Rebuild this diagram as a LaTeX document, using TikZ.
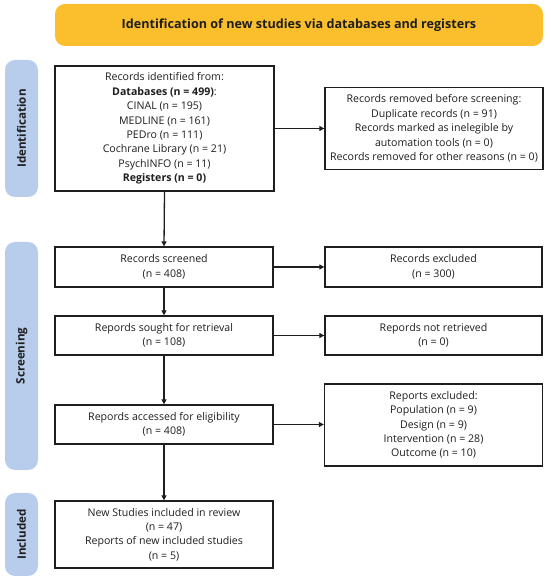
\documentclass[tikz,border=0pt]{standalone}
\usepackage{fontspec}
\setmainfont{Open Sans}
\usetikzlibrary{arrows.meta}
\definecolor{banner}{RGB}{251,190,44}
\definecolor{sidebl}{RGB}{183,205,235}
\definecolor{ink}{RGB}{30,30,30}
\begin{document}
\begin{tikzpicture}[x=1pt,y=1pt,
  box/.style={draw=ink,line width=1.3pt,fill=white,align=center,inner sep=2pt,
    font=\fontsize{10.6}{14.4}\selectfont,text=ink},
  side/.style={fill=sidebl,rounded corners=10pt,minimum width=33pt,inner sep=0pt},
  sidetext/.style={rotate=90,font=\bfseries\fontsize{11.6}{13}\selectfont,text=ink},
  arr/.style={draw=ink,line width=1.3pt,-{Triangle[length=5pt,width=5pt]}}]
\useasboundingbox (0,0) rectangle (550,581);
% banner
\node[fill=banner,rounded corners=10pt,minimum width=488pt,minimum height=42pt,
  font=\bfseries\fontsize{12.6}{14}\selectfont,text=ink,inner sep=0pt] (title) at (299,556) {Identification of new studies via databases and registers};
% side labels
\node[side,minimum height=137pt] (sidei) at (21.5,452.5) {};
\node[sidetext] (sideit) at (sidei.center) {Identification};
\node[side,minimum height=228pt] (sides) at (21.5,225) {};
\node[sidetext] (sidest) at (sides.center) {Screening};
\node[side,minimum height=83pt] (sidec) at (21.5,46.5) {};
\node[sidetext] (sidect) at (sidec.center) {Included};
% main column
\node[box,minimum width=219pt,minimum height=125pt] (ident) at (164.5,452.5) {Records identified from:\\\textbf{Databases (n = 499)}:\\CINAL (n = 195)\\MEDLINE (n = 161)\\PEDro (n = 111)\\Cochrane Library (n = 21)\\PsychINFO (n = 11)\\\textbf{Registers (n = 0)}};
\node[box,minimum width=218pt,minimum height=82pt] (removed) at (434,452.5) {Records removed before screening:\\Duplicate records (n = 91)\\Records marked as inelegible by\\automation tools (n = 0)\\Records removed for other reasons (n = 0)};
\node[box,minimum width=218pt,minimum height=40pt] (screened) at (164,314) {Records screened\\(n = 408)};
\node[box,minimum width=217pt,minimum height=40pt] (excl) at (433.5,314) {Records excluded\\(n = 300)};
\node[box,minimum width=218pt,minimum height=39pt] (sought) at (164,245.5) {Repords sought for retrieval\\(n = 108)};
\node[box,minimum width=217pt,minimum height=39pt] (notret) at (433.5,245.5) {Repords not retrieved\\(n = 0)};
\node[box,minimum width=218pt,minimum height=39pt] (access) at (164,156.5) {Repords accessed for eligibility\\(n = 408)};
\node[box,minimum width=218pt,minimum height=82pt] (repexcl) at (433.5,156) {Reports excluded:\\Population (n = 9)\\Design (n = 9)\\Intervention (n = 28)\\Outcome (n = 10)};
\node[box,minimum width=218pt,minimum height=67pt] (incl) at (164,46.5) {New Studies included in review\\(n = 47)\\Reports of new included studies\\(n = 5)};
% connectors
\draw[arr] (ident.south) -- (screened.north);
\draw[arr] (ident.east) -- (removed.west);
\draw[arr] (screened.south) -- (sought.north);
\draw[arr] (screened.east) -- (excl.west);
\draw[arr] (sought.south) -- (access.north);
\draw[arr] (sought.east) -- (notret.west);
\draw[arr] (access.south) -- (incl.north);
\draw[arr] (access.east) -- (access.east -| repexcl.west);
\end{tikzpicture}
\end{document}
